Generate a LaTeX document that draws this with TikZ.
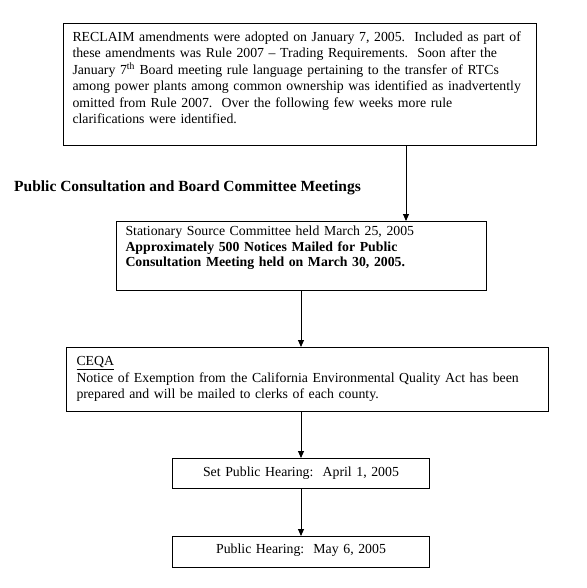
\documentclass[tikz,border=0pt]{standalone}
\usepackage{fontspec}
\setmainfont{Liberation Serif}
\usetikzlibrary{arrows.meta}

\newcommand{\fs}{\fontsize{13.8}{16.5}\selectfont\frenchspacing}
\tikzset{bx/.style={draw, rectangle, line width=1pt, anchor=north west, inner ysep=0pt, inner xsep=9pt, font=\fs, align=left}}
\tikzset{ar/.style={line width=0.9pt, -{Triangle[width=6pt,length=7pt]}}}

\begin{document}
\begin{tikzpicture}[x=1pt, y=-1pt]
\useasboundingbox (0,0) rectangle (586,588);
\node[bx, text width=455pt, text height=18pt, text depth=104pt] (rcl) at (63,23)
 {RECLAIM amendments were adopted on January 7, 2005.~ Included as part of\\
  these amendments was Rule 2007 -- Trading Requirements.~ Soon after the\\
  January 7\textsuperscript{th} Board meeting rule language pertaining to the transfer of RTCs\\
  among power plants among common ownership was identified as inadvertently\\
  omitted from Rule 2007.~ Over the following few weeks more rule\\
  clarifications were identified.};
\node[anchor=base west, font=\bfseries\fontsize{15.5}{18}\selectfont, inner sep=0pt] (ttl) at (14,191)
 {Public Consultation and Board Committee Meetings};
\node[bx, text width=352pt, text height=14pt, text depth=55pt, font=\fontsize{13.8}{15.5}\selectfont] (ssc) at (116,221)
 {Stationary Source Committee held March 25, 2005\\
  \textbf{Approximately 500 Notices Mailed for Public}\\
  \textbf{Consultation Meeting held on March 30, 2005.}};
\node[bx, inner xsep=10pt, text width=462pt, text height=18pt, text depth=46pt] (ceqa) at (66,347)
 {\underline{CEQA}\\
  Notice of Exemption from the California Environmental Quality Act has been\\
  prepared and will be mailed to clerks of each county.};
\node[bx, align=center, text width=239pt, text height=18pt, text depth=12pt] (sph) at (172,458)
 {Set Public Hearing:~ April 1, 2005};
\node[bx, align=center, text width=239pt, text height=17pt, text depth=14pt] (ph) at (172,536)
 {Public Hearing:~ May 6, 2005};
% connectors
\coordinate (c1) at (406,0);
\coordinate (c2) at (301,0);
\draw[ar] (rcl.south -| c1) -- (ssc.north -| c1);
\draw[ar] (ssc.south -| c2) -- (ceqa.north -| c2);
\draw[ar] (ceqa.south -| c2) -- (sph.north -| c2);
\draw[ar] (sph.south -| c2) -- (ph.north -| c2);
\end{tikzpicture}
\end{document}
